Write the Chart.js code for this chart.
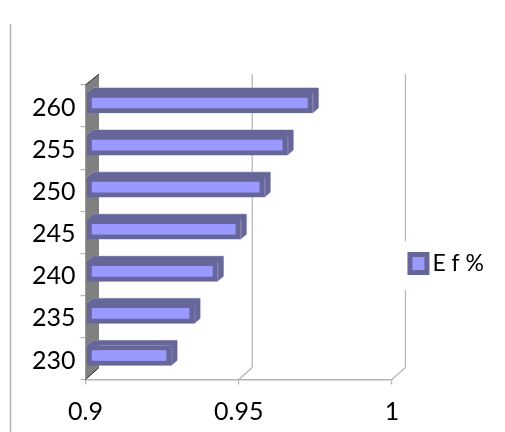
<!DOCTYPE html>
<html>
<head>
<meta charset="utf-8">
<style>
  html, body { margin: 0; padding: 0; background: #fff; overflow: hidden; }
  canvas { display: block; }
</style>
<script src="https://cdn.jsdelivr.net/npm/chart.js@4"></script>
</head>
<body>
<canvas id="myChart" width="505" height="432"></canvas>
<script>
const categories = ['260', '255', '250', '245', '240', '235', '230']
const efValues = [0.9737, 0.9655, 0.958, 0.9502, 0.9427, 0.9351, 0.9276]
const xTicks = [0.9, 0.95, 1]
const seriesName = 'E f %'

const axisGray = '#b4b4b4'
const dark = '#666699'
const light = '#9999ff'
const depthX = 6, depthY = 5
const wallX = 13.5, wallY = 12

// fake 3d: back wall, grid on the wall, bar depth
const box3d = {
  id: 'box3d',
  beforeDraw(chart) {
    const c = chart.ctx
    c.fillStyle = '#fff'
    c.fillRect(0, 0, chart.width, chart.height)
    c.strokeStyle = axisGray
    c.lineWidth = 1.5
    c.beginPath()
    c.moveTo(10.5, 24)
    c.lineTo(10.5, 432)
    c.stroke()
  },
  beforeDatasetsDraw(chart) {
    const c = chart.ctx
    const a = chart.chartArea
    const xs = chart.scales.x

    c.strokeStyle = axisGray
    c.lineWidth = 1.2
    xTicks.forEach(function(v) {
      const px = xs.getPixelForValue(v)
      if (v == xTicks[0]) return
      c.beginPath()
      c.moveTo(px, a.bottom)
      c.lineTo(px + wallX, a.bottom - wallY)
      // the last wall line stops behind the legend
      if (v == xTicks[xTicks.length - 1]) {
        c.lineTo(px + wallX, 290)
        c.moveTo(px + wallX, 241)
      }
      c.lineTo(px + wallX, a.top - 11)
      c.stroke()
    })

    c.fillStyle = '#808080'
    c.beginPath()
    c.moveTo(a.left, a.top)
    c.lineTo(a.left + wallX, a.top - 11)
    c.lineTo(a.left + wallX, a.bottom - wallY)
    c.lineTo(a.left, a.bottom)
    c.closePath()
    c.fill()
    c.strokeStyle = '#222'
    c.lineWidth = 1
    c.beginPath()
    c.moveTo(a.left, a.top)
    c.lineTo(a.left + wallX, a.top - 11)
    c.moveTo(a.left, a.bottom)
    c.lineTo(a.left + wallX, a.bottom - wallY)
    c.stroke()

    c.save()
    c.translate(1, -3)
    chart.getDatasetMeta(0).data.forEach(function(bar) {
      const x0 = bar.base, x1 = bar.x
      const y0 = bar.y - bar.height / 2, y1 = bar.y + bar.height / 2
      c.fillStyle = dark
      c.strokeStyle = '#a3a3c6'
      c.lineWidth = 1
      c.beginPath()
      c.moveTo(x0, y0)
      c.lineTo(x0 + depthX, y0 - depthY)
      c.lineTo(x1 + depthX, y0 - depthY)
      c.lineTo(x1 + depthX, y1 - depthY)
      c.lineTo(x1, y1)
      c.stroke()
      c.lineTo(x1, y0)
      c.lineTo(x0, y0)
      c.closePath()
      c.fill()
    })
  },
  afterDatasetsDraw(chart) {
    const c = chart.ctx
    chart.getDatasetMeta(0).data.forEach(function(bar) {
      const y0 = bar.y - bar.height / 2, y1 = bar.y + bar.height / 2
      c.strokeStyle = '#7d7dae'
      c.lineWidth = 1
      c.beginPath()
      c.moveTo(bar.x + 1, y0 + 2)
      c.lineTo(bar.x + 1, y1 - 2)
      c.stroke()
    })
    c.restore()
  },
  afterLayout(chart) {
    // legend sits lower and further right than chart.js would put it
    chart.legend.top += 5
    chart.legend.bottom += 5
    chart.legend.left += 12
    chart.legend.right = 484
  }
}

new Chart(document.getElementById('myChart'), {
  type: 'bar',
  plugins: [box3d],
  data: {
    labels: categories,
    datasets: [{
      label: seriesName,
      data: efValues,
      base: xTicks[0],
      backgroundColor: light,
      borderColor: dark,
      borderWidth: 5,
      borderSkipped: false,
      barThickness: 20,
      clip: false
    }]
  },
  options: {
    indexAxis: 'y',
    responsive: false,
    animation: false,
    devicePixelRatio: 1,
    layout: { padding: { top: 85, right: 17, bottom: 0, left: 0 } },
    plugins: {
      tooltip: { enabled: false },
      legend: {
        position: 'right',
        align: 'center',
        labels: {
          boxWidth: 17,
          boxHeight: 18,
          padding: 6,
          color: '#000',
          textAlign: 'right',
          font: { family: 'Lato', size: 23 },
          generateLabels() {
            return [{ text: seriesName, fontColor: '#000', fillStyle: light, strokeStyle: dark, lineWidth: 5, datasetIndex: 0 }]
          }
        }
      }
    },
    scales: {
      x: {
        type: 'linear',
        min: xTicks[0],
        max: xTicks[xTicks.length - 1],
        afterFit(s) { s.height = 52.5 },
        afterBuildTicks(s) { s.ticks = xTicks.map(function(v) { return { value: v } }) },
        border: { color: axisGray, width: 1.5 },
        grid: { drawOnChartArea: false, color: axisGray, tickLength: 5, lineWidth: 1.2 },
        ticks: {
          color: '#000', padding: 12, maxRotation: 0, font: { family: 'Lato', size: 25 },
          callback(v) { return String(v) }
        }
      },
      y: {
        afterFit(s) { s.width = 85.5 },
        border: { color: axisGray, width: 1.5 },
        grid: { drawOnChartArea: false, color: axisGray, tickLength: 5, lineWidth: 1.2, offset: true },
        ticks: { color: '#000', padding: 5, labelOffset: 2, autoSkip: false, font: { family: 'Lato', size: 25 } }
      }
    }
  }
})
</script>
</body>
</html>
